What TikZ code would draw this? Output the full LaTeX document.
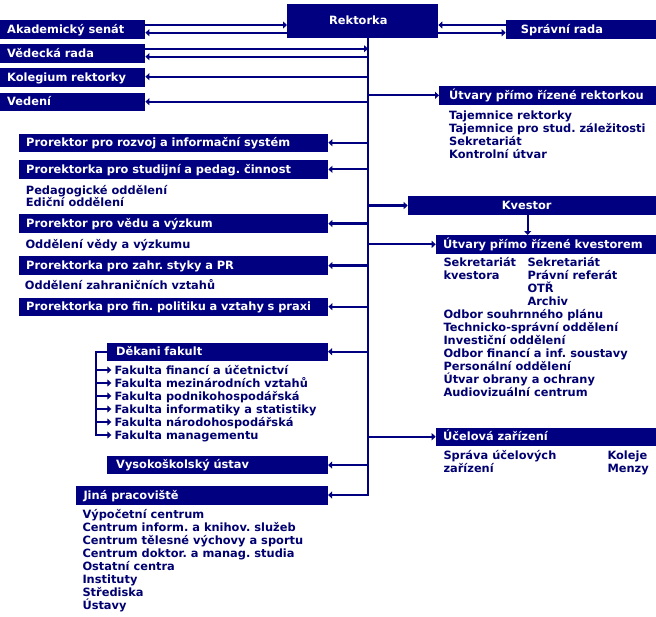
\documentclass[tikz,border=0pt]{standalone}
\usepackage{fontspec}
\setmainfont{DejaVu Sans}
\usetikzlibrary{arrows.meta}
\definecolor{navy}{HTML}{000080}
\definecolor{ink}{HTML}{000070}
\frenchspacing
\newcommand\mybox[7]{%
  \pgfmathsetmacro\bw{#4-#2}%
  \pgfmathsetmacro\bh{#5-#3}%
  \pgfmathsetmacro\tw{#4-#2-2*#6}%
  \node[box, minimum width=\bw pt, minimum height=\bh pt, inner xsep=#6pt, text width=\tw pt] (#1) at (#2,#3) {\mbox{#7}};}
\begin{document}
\begin{tikzpicture}[x=1pt,y=-1pt,
  fnt/.style={font=\fontsize{11.4}{13}\selectfont\bfseries\frenchspacing},
  box/.style={fnt, fill=navy, text=white, anchor=north west, inner ysep=0pt, align=left, text height=8pt, text depth=0.5pt},
  lst/.style={fnt, text=ink, anchor=west, inner sep=0pt, text height=8pt, text depth=0pt},
  ln/.style={draw=navy, line width=2.2pt},
  arr/.style={ln, -{Triangle[length=4pt,width=7pt]}}]
\fill[white] (0,0) rectangle (656,616);
\useasboundingbox (0,0) rectangle (656,616);

% boxes
\mybox{rek}{287}{4}{438}{38}{42}{Rektorka}
\mybox{ak}{0}{20}{145}{39}{7}{Akademický senát}
\mybox{vr}{0}{44}{145}{62.7}{7}{Vědecká rada}
\mybox{kol}{0}{68}{145}{86.7}{7}{Kolegium rektorky}
\mybox{ved}{0}{92.7}{145}{111}{7}{Vedení}
\mybox{sr}{505.7}{20}{656}{39}{15}{Správní rada}
\mybox{ur}{439}{86}{656}{104.3}{10}{Útvary přímo řízené rektorkou}
\mybox{p1}{19}{133.3}{328}{151.7}{7}{Prorektor pro rozvoj a informační systém}
\mybox{p2}{19}{160}{328}{178.3}{7}{Prorektorka pro studijní a pedag. činnost}
\mybox{p3}{19}{214}{328}{232.7}{7}{Prorektor pro vědu a výzkum}
\mybox{p4}{19}{256}{328}{274.7}{7}{Prorektorka pro zahr. styky a PR}
\mybox{p5}{19}{297.3}{328}{315.7}{7}{Prorektorka pro fin. politiku a vztahy s praxi}
\mybox{kv}{407.7}{196}{656}{214.7}{94}{Kvestor}
\mybox{uk}{435.7}{235}{656}{253.3}{7.3}{Útvary přímo řízené kvestorem}
\mybox{dek}{106.7}{342.3}{327.7}{360.7}{9.3}{Děkani fakult}
\mybox{vu}{106.7}{455.7}{327.7}{474}{9.3}{Vysokoškolský ústav}
\mybox{uz}{435.7}{427.3}{656}{445.7}{7.3}{Účelová zařízení}
\mybox{jina}{75.7}{486}{327.7}{504.3}{7.6}{Jiná pracoviště}

% lists
\foreach \t [count=\i] in {Tajemnice rektorky, Tajemnice pro stud. záležitosti, Sekretariát, Kontrolní útvar}
  \node[lst] (ul\i) at (449,102+13*\i) {\t};
\node[lst] (pe1) at (25.7,190) {Pedagogické oddělení};
\node[lst] (pe2) at (25.7,202.5) {Ediční oddělení};
\node[lst] (vv) at (25.3,244) {Oddělení vědy a výzkumu};
\node[lst] (zv) at (24.7,285.7) {Oddělení zahraničních vztahů};
\node[lst] (k1) at (443.3,262.7) {Sekretariát};
\node[lst] (k2) at (443.3,275.7) {kvestora};
\node[lst] (k3) at (527.3,262.7) {Sekretariát};
\node[lst] (k4) at (527.3,275.7) {Právní referát};
\node[lst] (k5) at (527.3,288.7) {OTŘ};
\node[lst] (k6) at (527.3,301.7) {Archiv};
\foreach \t [count=\i] in {Odbor souhrnného plánu, Technicko-správní oddělení, Investiční oddělení, Odbor financí a inf. soustavy, Personální oddělení, Útvar obrany a ochrany, Audiovizuální centrum}
  \node[lst] (kl\i) at (443.3,301.7+13*\i) {\t};
\foreach \t [count=\i] in {Fakulta financí a účetnictví, Fakulta mezinárodních vztahů, Fakulta podnikohospodářská, Fakulta informatiky a statistiky, Fakulta národohospodářská, Fakulta managementu}
  \node[lst] (f\i) at (114.3,357+13*\i) {\t};
\node[lst] (z1) at (443.3,455) {Správa účelových};
\node[lst] (z2) at (443.3,468) {zařízení};
\node[lst] (z3) at (607.3,455) {Koleje};
\node[lst] (z4) at (607.3,468) {Menzy};
\foreach \t [count=\i] in {Výpočetní centrum, Centrum inform. a knihov. služeb, Centrum tělesné výchovy a sportu, Centrum doktor. a manag. studia, Ostatní centra, Instituty, Střediska, Ústavy}
  \node[lst] (j\i) at (82.3,501.7+13*\i) {\t};

% connectors
\coordinate (T) at (368,0);
\coordinate (Tend) at (368,495);
\coordinate (B) at (95.7,0);
\draw[arr] (rek.south -| T) -- (Tend) -- (jina.east |- Tend);
\draw[arr] (ak.east |- 0,25) -- (rek.west |- 0,25);
\draw[arr] (rek.west |- 0,32.7) -- (ak.east |- 0,32.7);
\draw[arr] (sr.west |- 0,25) -- (rek.east |- 0,25);
\draw[arr] (rek.east |- 0,32.7) -- (sr.west |- 0,32.7);
\draw[arr] (vr.east |- 0,48.7) -- (T |- 0,48.7);
\draw[arr] (T |- 0,56.7) -- (vr.east |- 0,56.7);
\draw[arr] (T |- 0,76.7) -- (kol.east |- 0,76.7);
\draw[arr] (T |- 0,101.7) -- (ved.east |- 0,101.7);
\draw[arr] (T |- ur.west) -- (ur.west);
\foreach \n in {p1,p2,p3,p4,p5,dek,vu}
  \draw[arr] (T |- \n.east) -- (\n.east);
\draw[arr] (T |- kv.west) -- (kv.west);
\draw[arr] (T |- uk.west) -- (uk.west);
\draw[arr] (T |- uz.west) -- (uz.west);
\draw[arr] (kv.south -| 527.7,0) -- (uk.north -| 527.7,0);
\draw[arr] (dek.west) -| (B |- f6.west) -- ([xshift=-3pt]f6.west);
\foreach \i in {1,...,5}
  \draw[arr] (B |- f\i.west) -- ([xshift=-3pt]f\i.west);
\end{tikzpicture}
\end{document}
